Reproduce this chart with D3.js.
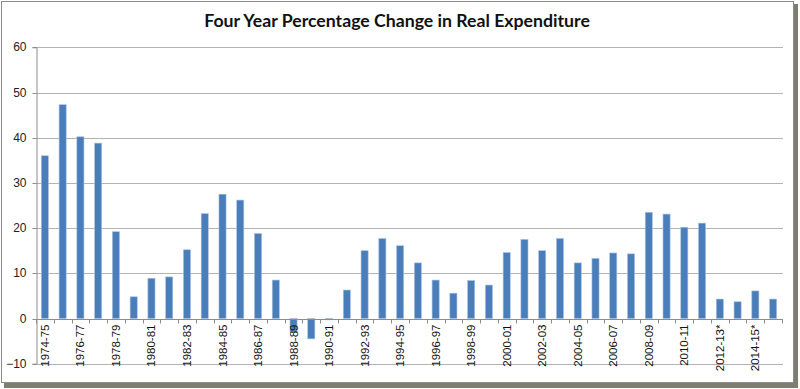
<!DOCTYPE html>
<html>
<head>
<meta charset="utf-8">
<script src="https://cdn.jsdelivr.net/npm/d3@7"></script>
<style>
html,body{margin:0;padding:0;background:#fff;}
svg{display:block;}
</style>
</head>
<body>
<div id="chart"></div>
<script>
const categories = ["1974-75","1975-76","1976-77","1977-78","1978-79","1979-80","1980-81","1981-82","1982-83","1983-84",
"1984-85","1985-86","1986-87","1987-88","1988-89","1989-90","1990-91","1991-92","1992-93","1993-94",
"1994-95","1995-96","1996-97","1997-98","1998-99","1999-00","2000-01","2001-02","2002-03","2003-04",
"2004-05","2005-06","2006-07","2007-08","2008-09","2009-10","2010-11","2011-12","2012-13*","2013-14*",
"2014-15*","2015-16*"];
const values = [36.0,47.3,40.2,38.8,19.2,4.8,8.9,9.2,15.2,23.2,
27.5,26.2,18.8,8.5,-3.0,-4.5,-0.3,6.3,15.0,17.7,
16.1,12.3,8.5,5.6,8.4,7.4,14.6,17.5,15.0,17.7,
12.3,13.3,14.5,14.3,23.5,23.1,20.2,21.1,4.3,3.7,
6.1,4.3];
const yTicks = [-10,0,10,20,30,40,50,60];
const title = "Four Year Percentage Change in Real Expenditure";

const W = 800, H = 389;
const svg = d3.select("#chart").append("svg").attr("width", W).attr("height", H);

// frame with shadow
svg.append("rect").attr("x",4).attr("y",4).attr("width",794).attr("height",384).attr("fill","#7d7d70");
svg.append("rect").attr("x",1.5).attr("y",1.5).attr("width",792).attr("height",381)
  .attr("fill","#fff").attr("stroke","#8c8c8c").attr("stroke-width",1);

const x = d3.scaleBand().domain(categories).range([36, 782]).paddingInner(0.6).paddingOuter(0.3);
const y = d3.scaleLinear().domain([-10, 60]).range([363.7, 47.3]);

// gridlines
svg.append("g").selectAll("line").data(yTicks.filter(d => d !== 0)).join("line")
  .attr("x1", 36).attr("x2", 783)
  .attr("y1", d => Math.round(y(d)) + 0.5).attr("y2", d => Math.round(y(d)) + 0.5)
  .attr("stroke", "#b3b3b3").attr("stroke-width", 1);

// y axis
const yAxis = svg.append("g").attr("transform", "translate(36.5,0)")
  .call(d3.axisLeft(y).tickValues(yTicks).tickSize(4).tickPadding(6).tickFormat(d3.format("d")));
yAxis.select(".domain").attr("stroke", "#8c8c8c");
yAxis.selectAll(".tick line").attr("stroke", "#8c8c8c");
yAxis.selectAll("text").attr("font-family", "Liberation Sans, Arial, sans-serif").attr("font-size", 12).attr("fill", "#222");
yAxis.selectAll(".tick").attr("transform", d => `translate(0,${Math.round(y(d)) + 0.5})`);

// bars
svg.append("g").selectAll("rect").data(values).join("rect")
  .attr("x", (d, i) => x(categories[i]))
  .attr("width", x.bandwidth())
  .attr("y", d => y(Math.max(0, d)))
  .attr("height", d => Math.abs(y(d) - y(0)))
  .attr("fill", "#4a7ebb")
  .attr("stroke", "#a9c1e0").attr("stroke-width", 0.6);

// x axis (zero line) with ticks at category boundaries
const y0 = Math.round(y(0)) + 0.5;
svg.append("line").attr("x1", 36).attr("x2", 783).attr("y1", y0).attr("y2", y0).attr("stroke", "#8c8c8c");
const step = x.step();
svg.append("g").selectAll("line").data(d3.range(categories.length + 1)).join("line")
  .attr("x1", i => Math.round(36 + i * step) + 0.5).attr("x2", i => Math.round(36 + i * step) + 0.5)
  .attr("y1", y0).attr("y2", y0 + 4).attr("stroke", "#8c8c8c");

// x labels
svg.append("g").selectAll("text").data(categories.filter((c, i) => i % 2 === 0)).join("text")
  .attr("transform", c => `translate(${x(c) + x.bandwidth() / 2},${y0 + 5}) rotate(-90)`)
  .attr("text-anchor", "end").attr("dy", "0.35em")
  .attr("font-family", "Liberation Sans, Arial, sans-serif").attr("font-size", 11.5).attr("fill", "#111")
  .text(c => c);

// title
const t = svg.append("text").attr("x", 397).attr("y", 27).attr("text-anchor", "middle")
  .attr("font-family", "Lato, 'Open Sans', sans-serif").attr("font-weight", "bold")
  .attr("font-size", 17).attr("fill", "#111").text(title);
const len = t.node().getComputedTextLength();
t.attr("font-size", 17 * 386 / len);
</script>
</body>
</html>
